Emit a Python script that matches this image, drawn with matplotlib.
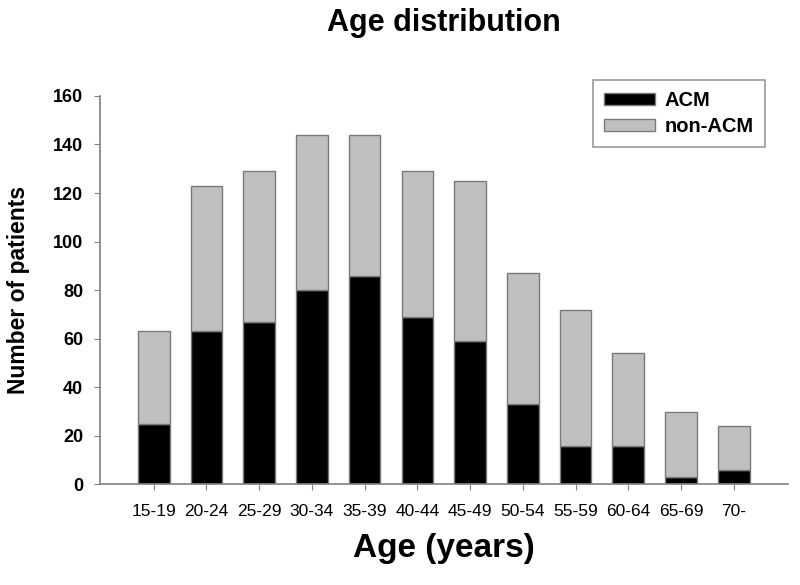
import matplotlib.pyplot as plt
import numpy as np

plt.rcParams['font.family'] = ['Liberation Sans', 'DejaVu Sans']

ages = ['15-19', '20-24', '25-29', '30-34', '35-39', '40-44',
        '45-49', '50-54', '55-59', '60-64', '65-69', '70-']
acm = [25, 63, 67, 80, 86, 69, 59, 33, 16, 16, 3, 6]
totals = [63, 123, 129, 144, 144, 129, 125, 87, 72, 54, 30, 24]
non_acm = [t - a for t, a in zip(totals, acm)]

fig = plt.figure(figsize=(8, 5.85), dpi=100)
ax = fig.add_axes([0.125, 0.172, 0.86, 0.664])

x = np.arange(len(ages))
ax.bar(x, acm, width=0.6, color='black', edgecolor='#7a7a7a',
       linewidth=1.0, label='ACM')
ax.bar(x, non_acm, width=0.6, bottom=acm, color='#c0c0c0',
       edgecolor='#7a7a7a', linewidth=1.0, label='non-ACM')

ax.set_xlim(-1.02, 12.03)
ax.set_ylim(0, 160)
ax.set_yticks(range(0, 161, 20))
ax.set_xticks(x)
ax.set_xticklabels(ages, fontsize=12.5)
for lab in ax.get_yticklabels():
    lab.set_fontweight('bold')
    lab.set_fontsize(13)

for s in ['top', 'right']:
    ax.spines[s].set_visible(False)
for s in ['left', 'bottom']:
    ax.spines[s].set_color('#808080')
    ax.spines[s].set_linewidth(1.2)
ax.tick_params(axis='x', length=4, color='#808080', pad=10)
ax.tick_params(axis='y', length=4, color='#808080', pad=8)

ax.set_xlabel('Age (years)', fontsize=24, fontweight='bold')
ax.xaxis.set_label_coords(0.5, -0.164)
ax.xaxis.label.set_va('center')
ax.set_ylabel('Number of patients', fontsize=16.5, fontweight='bold')
ax.yaxis.set_label_coords(-0.119, 0.5)
ax.yaxis.label.set_va('center')

fig.text(0.555, 1 - 23 / 585, 'Age distribution', fontsize=22,
         fontweight='bold', ha='center', va='center')

leg = ax.legend(loc='upper right', bbox_to_anchor=(765 / 800, 1 - 80 / 585),
                bbox_transform=fig.transFigure, borderaxespad=0,
                prop={'weight': 'bold', 'size': 14.5}, fancybox=False,
                handlelength=2.5, handleheight=0.5, handletextpad=0.5,
                borderpad=0.55, labelspacing=0.35)
leg.get_frame().set_edgecolor('#808080')
leg.get_frame().set_linewidth(1.2)

fig.savefig('out.png', dpi=100)
